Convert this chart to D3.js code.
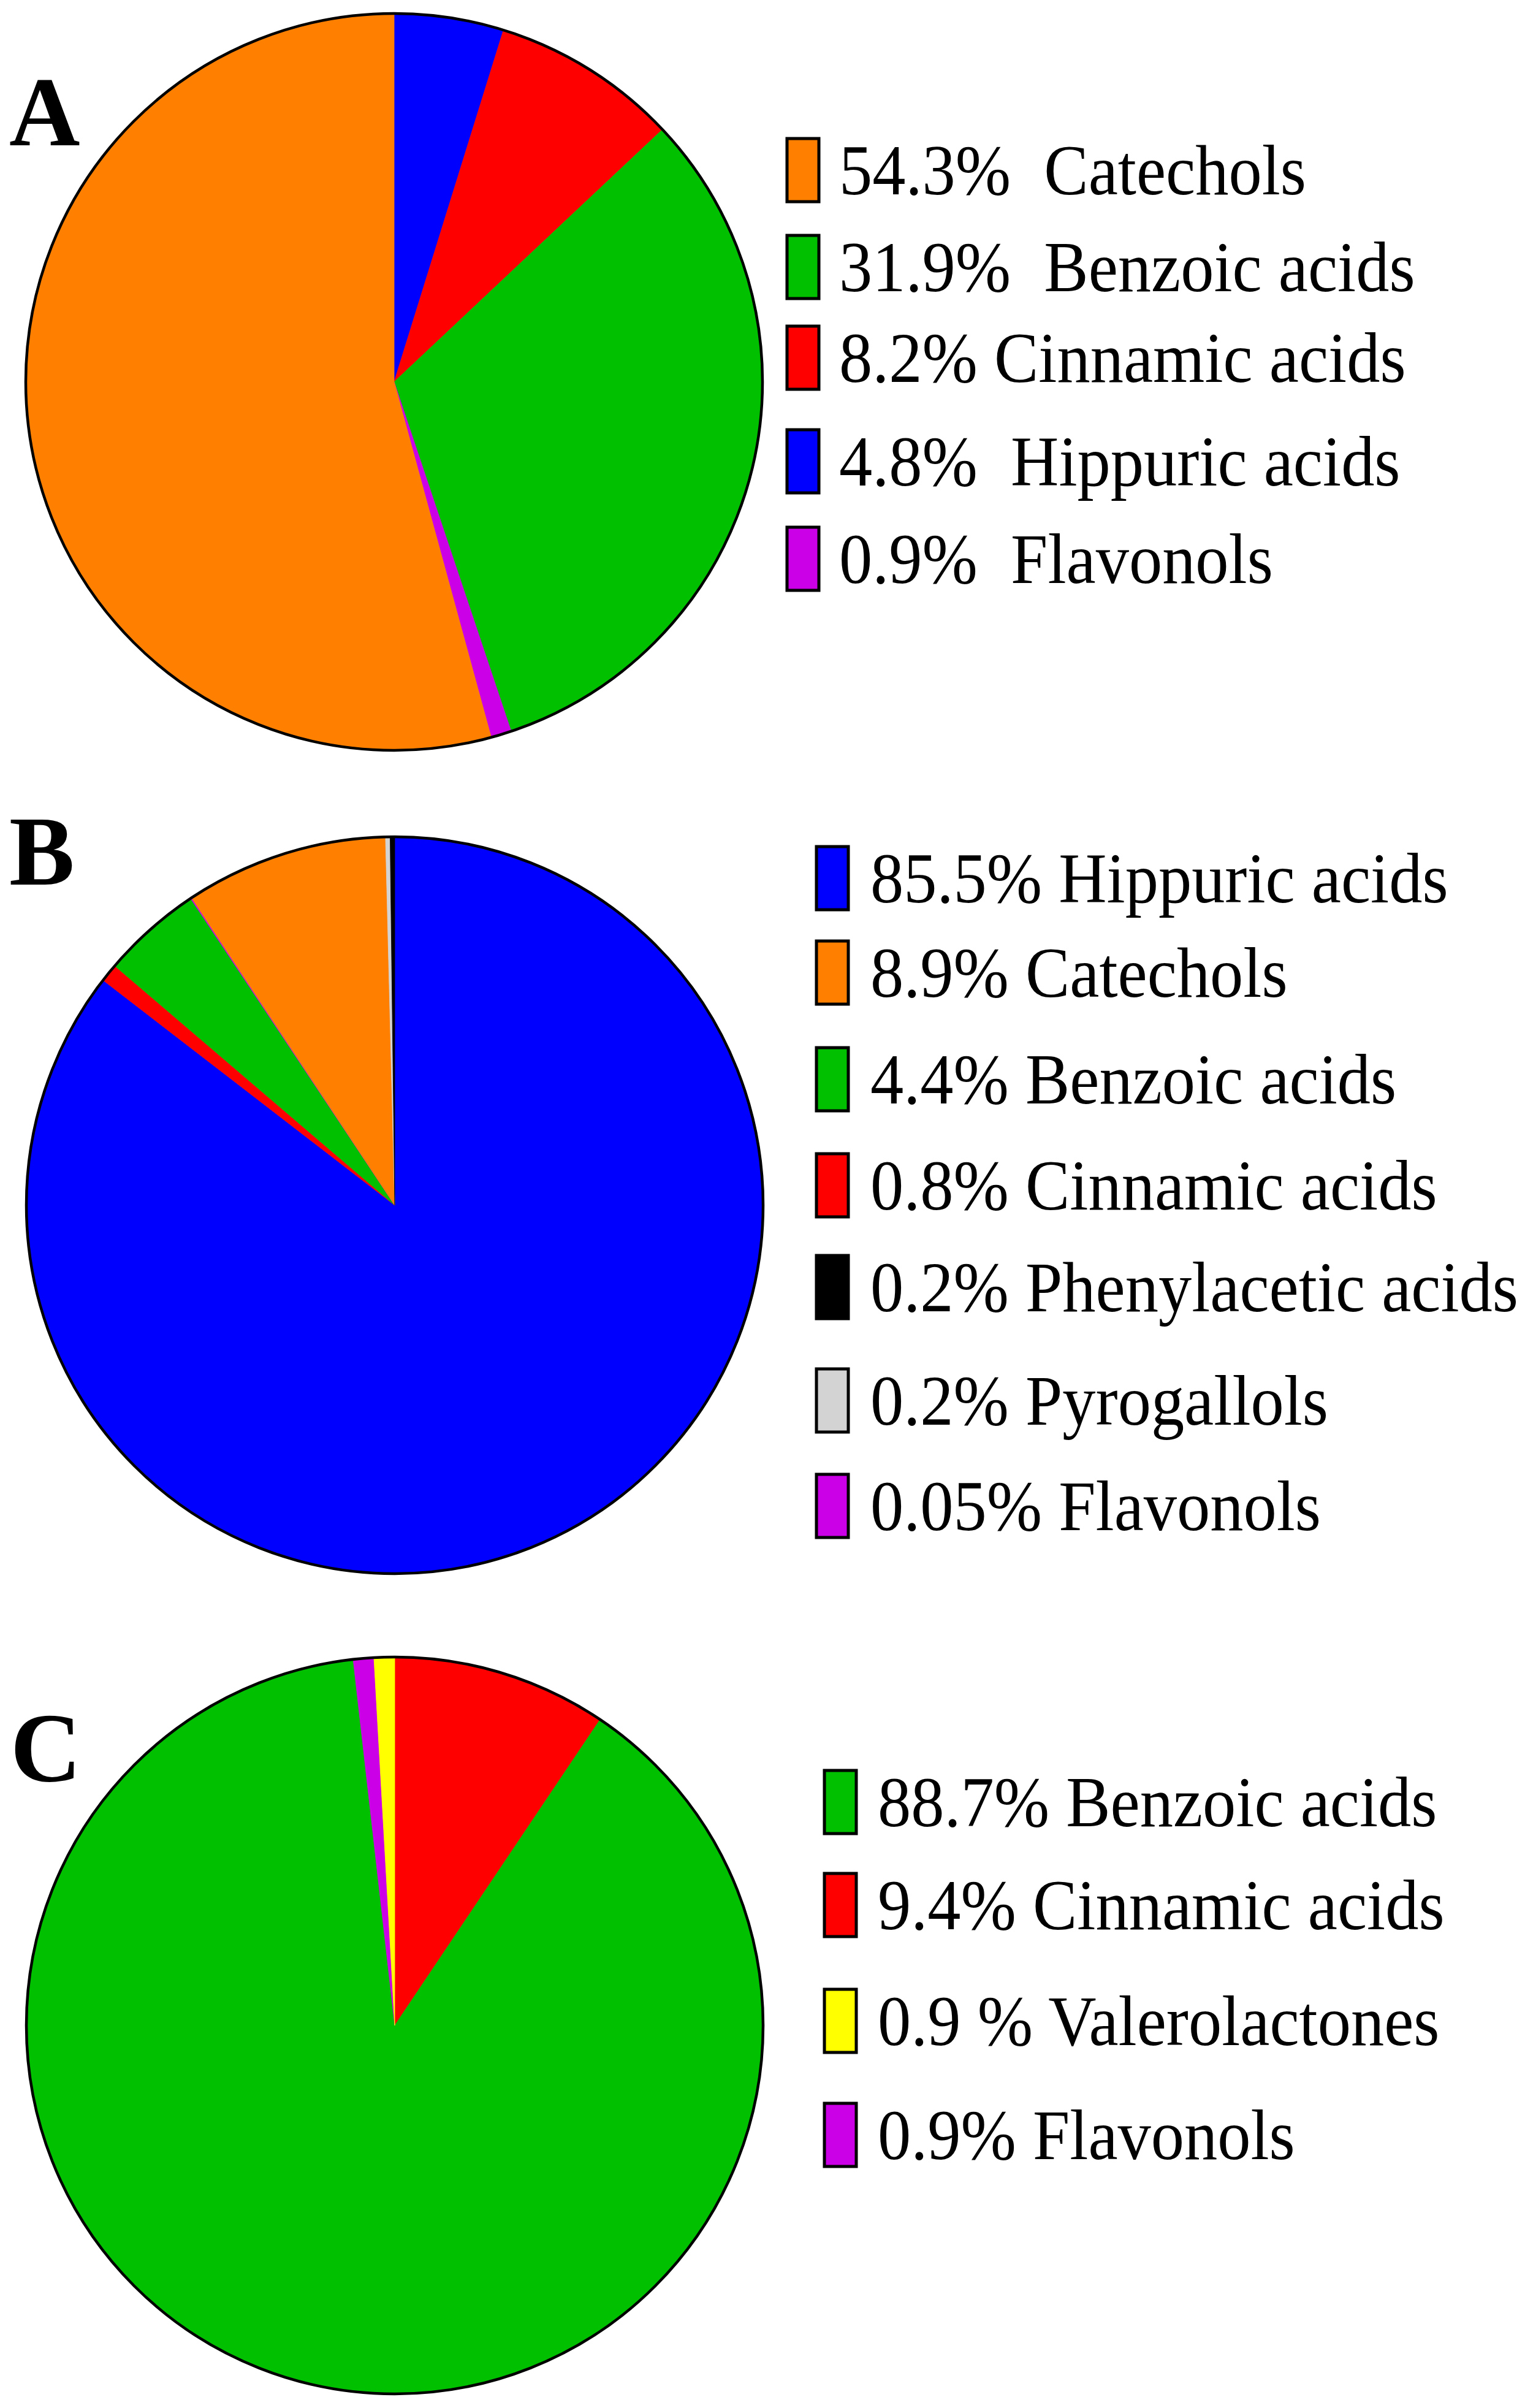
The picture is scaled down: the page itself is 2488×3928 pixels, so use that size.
<!DOCTYPE html>
<html>
<head>
<meta charset="utf-8">
<script src="https://cdn.jsdelivr.net/npm/d3@7"></script>
<style>
  html, body { margin: 0; padding: 0; background: #fff; }
  svg { display: block; }
  text { font-family: "Liberation Serif", "Times New Roman", Times, serif; white-space: pre; }
</style>
</head>
<body>
<svg id="chart" width="2488" height="3928"></svg>
<script>
// ---------- DATA ----------
const panelLetters = ["A", "B", "C"];

// Pie slices in clockwise order from 12 o'clock
const pieCatsA = ["Hippuric acids", "Cinnamic acids", "Benzoic acids", "Flavonols", "Catechols"];
const pieValsA = [4.8, 8.2, 31.9, 0.9, 54.3];

const pieCatsB = ["Hippuric acids", "Cinnamic acids", "Benzoic acids", "Flavonols", "Catechols", "Pyrogallols", "Phenylacetic acids"];
const pieValsB = [85.5, 0.8, 4.4, 0.05, 8.9, 0.2, 0.2];

const pieCatsC = ["Cinnamic acids", "Benzoic acids", "Flavonols", "Valerolactones"];
const pieValsC = [9.4, 88.7, 0.9, 0.9];

// Legend entries (order as shown)
const legendCatsA = ["Catechols", "Benzoic acids", "Cinnamic acids", "Hippuric acids", "Flavonols"];
const legendTextA = ["54.3%  Catechols", "31.9%  Benzoic acids", "8.2% Cinnamic acids", "4.8%  Hippuric acids", "0.9%  Flavonols"];

const legendCatsB = ["Hippuric acids", "Catechols", "Benzoic acids", "Cinnamic acids", "Phenylacetic acids", "Pyrogallols", "Flavonols"];
const legendTextB = ["85.5% Hippuric acids", "8.9% Catechols", "4.4% Benzoic acids", "0.8% Cinnamic acids", "0.2% Phenylacetic acids", "0.2% Pyrogallols", "0.05% Flavonols"];

const legendCatsC = ["Benzoic acids", "Cinnamic acids", "Valerolactones", "Flavonols"];
const legendTextC = ["88.7% Benzoic acids", "9.4% Cinnamic acids", "0.9 % Valerolactones", "0.9% Flavonols"];

const categoryNames = ["Catechols", "Benzoic acids", "Cinnamic acids", "Hippuric acids", "Flavonols", "Phenylacetic acids", "Pyrogallols", "Valerolactones"];
const categoryColors = ["#FF8000", "#00C000", "#FF0000", "#0000FF", "#CC00E6", "#000000", "#D3D3D3", "#FFFF00"];

// ---------- LAYOUT ----------
const color = d3.scaleOrdinal().domain(categoryNames).range(categoryColors);
const R = 601;

const panels = [
  { letter: panelLetters[0], cats: pieCatsA, vals: pieValsA, lcats: legendCatsA, ltext: legendTextA,
    cx: 643, cy: 623, lx: 15, ly: 237,
    boxX: 1284, textX: 1369, rowTops: [226, 384, 532, 701, 860] },
  { letter: panelLetters[1], cats: pieCatsB, vals: pieValsB, lcats: legendCatsB, ltext: legendTextB,
    cx: 644, cy: 1966, lx: 15, ly: 1443,
    boxX: 1332, textX: 1420, rowTops: [1381, 1535, 1709, 1882, 2048, 2233, 2405] },
  { letter: panelLetters[2], cats: pieCatsC, vals: pieValsC, lcats: legendCatsC, ltext: legendTextC,
    cx: 644, cy: 3304, lx: 17, ly: 2905,
    boxX: 1345, textX: 1432, rowTops: [2888, 3056, 3245, 3431] }
];

const svg = d3.select("#chart");
const pie = d3.pie().sort(null).value(d => d.v).startAngle(0).endAngle(2 * Math.PI);
const arc = d3.arc().innerRadius(0).outerRadius(R);

panels.forEach(p => {
  const g = svg.append("g").attr("transform", `translate(${p.cx},${p.cy})`);
  const data = p.cats.map((c, i) => ({ c, v: p.vals[i] }));
  g.selectAll("path.slice")
    .data(pie(data))
    .join("path")
    .attr("class", "slice")
    .attr("d", arc)
    .attr("fill", d => color(d.data.c))
    .attr("stroke", d => color(d.data.c))
    .attr("stroke-width", 0.8);
  g.append("circle")
    .attr("r", R)
    .attr("fill", "none")
    .attr("stroke", "#000")
    .attr("stroke-width", 4.5);

  // panel letter
  svg.append("text")
    .attr("x", p.lx).attr("y", p.ly)
    .attr("font-size", 160)
    .attr("font-weight", "bold")
    .text(p.letter);

  // legend
  const y = d3.scalePoint().domain(p.lcats).range([0, p.lcats.length - 1]);
  const lg = svg.append("g");
  const items = lg.selectAll("g.item")
    .data(p.lcats.map((c, i) => ({ c, t: p.ltext[i], top: p.rowTops[i] })))
    .join("g").attr("class", "item");
  items.append("rect")
    .attr("x", p.boxX).attr("y", d => d.top)
    .attr("width", 52).attr("height", 103)
    .attr("fill", d => color(d.c))
    .attr("stroke", "#000")
    .attr("stroke-width", 5);
  items.append("text")
    .attr("transform", d => `translate(${p.textX},${d.top + 91}) scale(0.935,1)`)
    .attr("font-size", 116)
    .text(d => d.t);
});
</script>
</body>
</html>
